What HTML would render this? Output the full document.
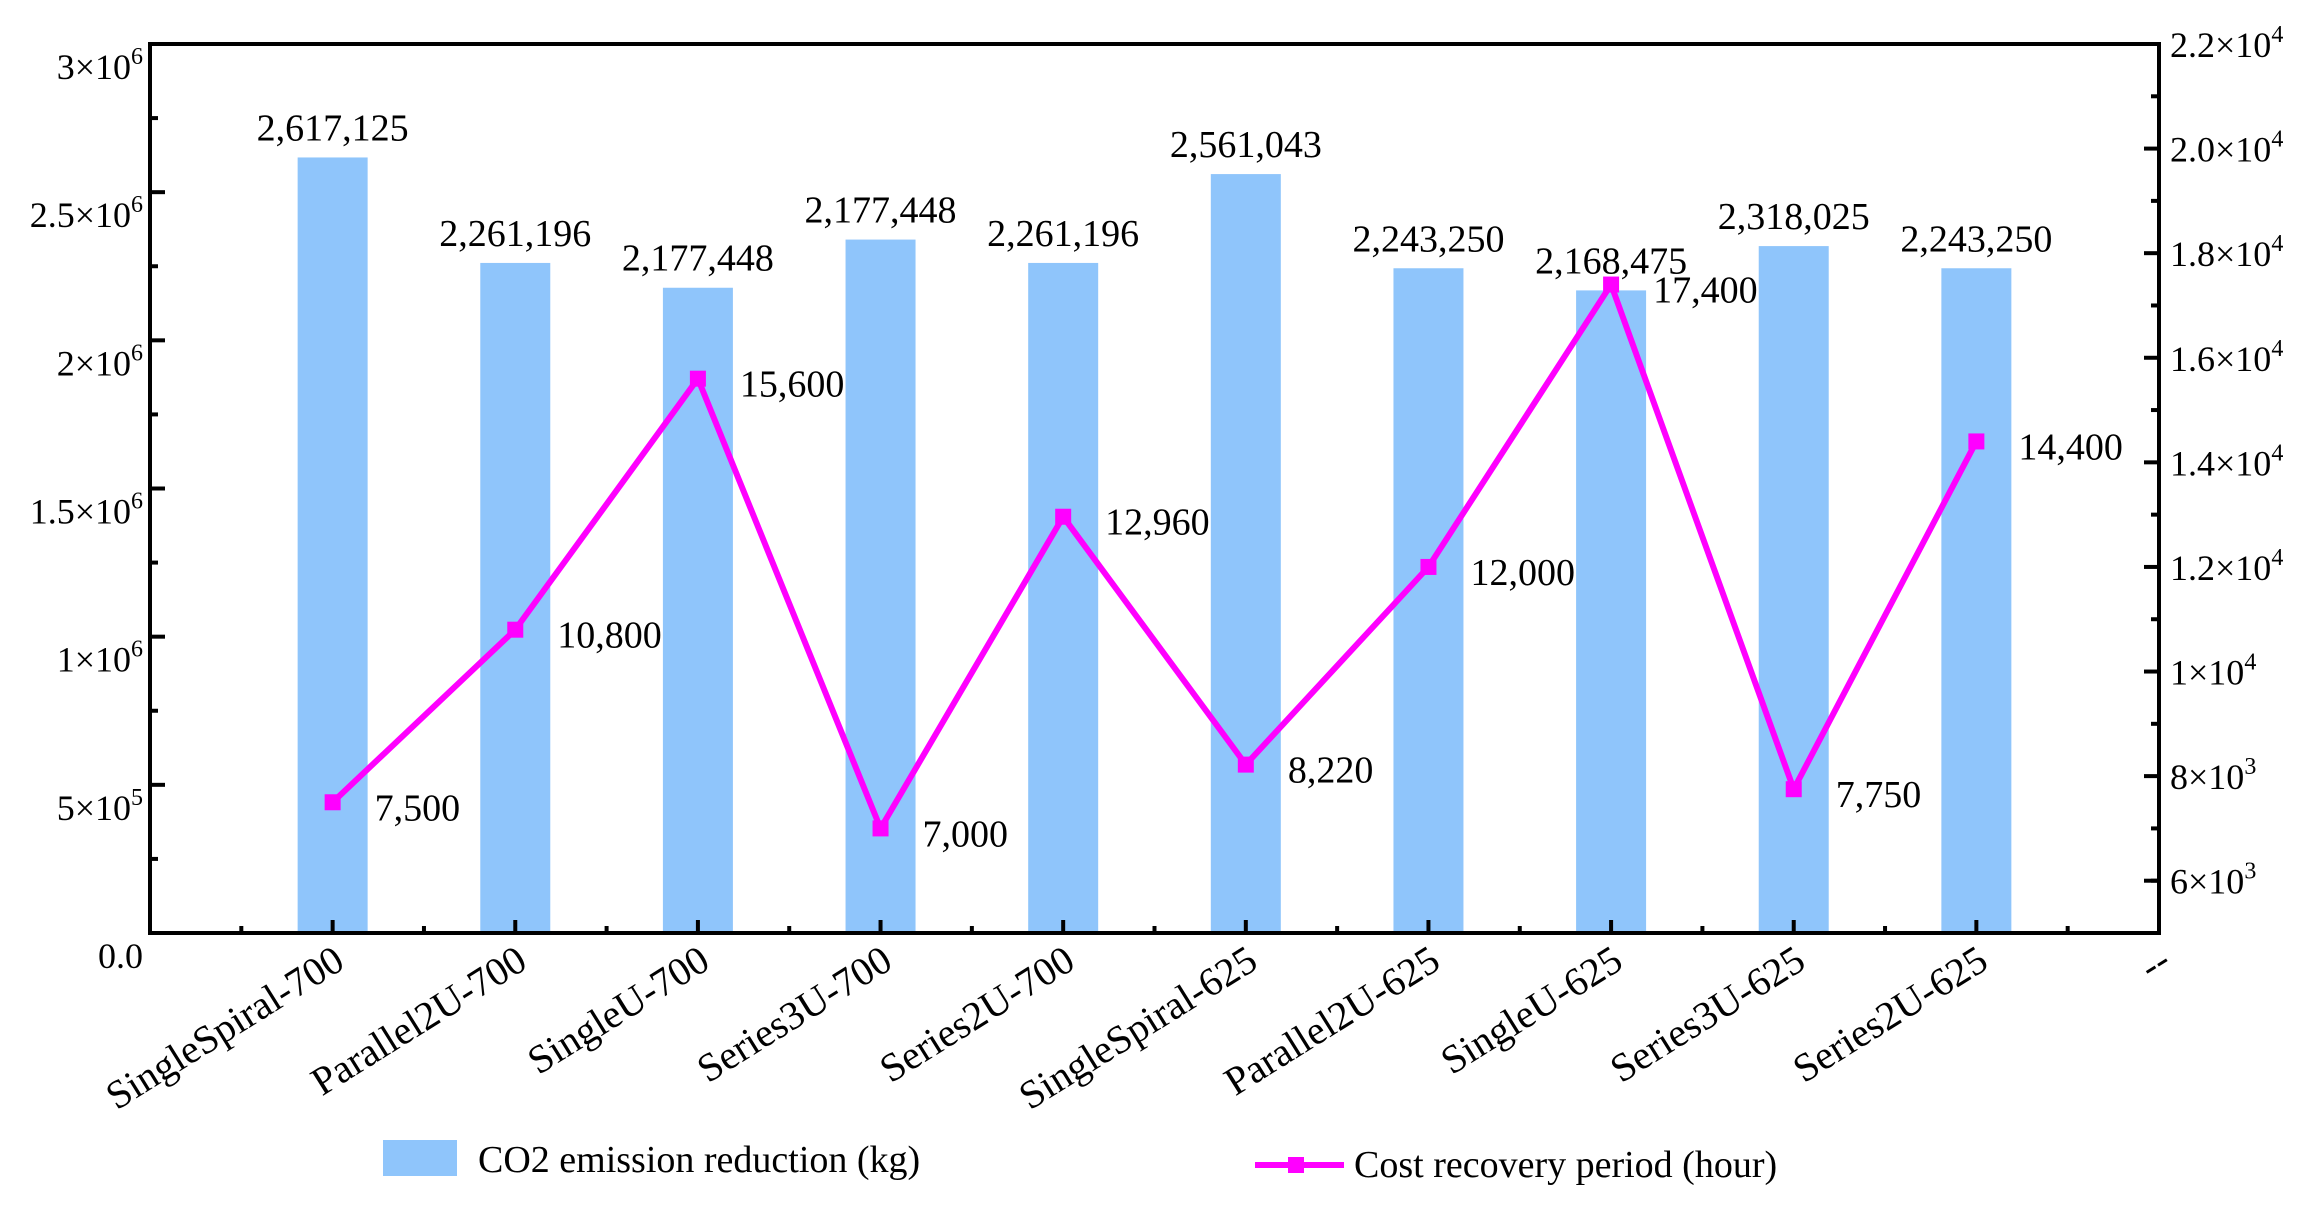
<!DOCTYPE html>
<html><head><meta charset="utf-8"><style>
html,body{margin:0;padding:0;background:#fff;}
svg, svg text{font-family:"Liberation Serif","Times New Roman",serif;}
</style></head><body>
<svg id="chart" width="2317" height="1201" viewBox="0 0 2317 1201" xmlns="http://www.w3.org/2000/svg" font-family="Liberation Serif, serif"></svg>
<script>
const categories = ["SingleSpiral-700","Parallel2U-700","SingleU-700","Series3U-700","Series2U-700","SingleSpiral-625","Parallel2U-625","SingleU-625","Series3U-625","Series2U-625"];
const co2Values = [2617125,2261196,2177448,2340000,2261196,2561043,2243250,2168475,2318025,2243250];
const co2Labels = ["2,617,125","2,261,196","2,177,448","2,177,448","2,261,196","2,561,043","2,243,250","2,168,475","2,318,025","2,243,250"];
const costValues = [7500,10800,15600,7000,12960,8220,12000,17400,7750,14400];
const costLabels = ["7,500","10,800","15,600","7,000","12,960","8,220","12,000","17,400","7,750","14,400"];
const leftTicks = [0,500000,1000000,1500000,2000000,2500000,3000000];
const leftTickMant = ["0.0","5","1","1.5","2","2.5","3"];
const leftTickExp = ["","5","6","6","6","6","6"];
const rightTicks = [6000,8000,10000,12000,14000,16000,18000,20000,22000];
const rightTickMant = ["6","8","1","1.2","1.4","1.6","1.8","2.0","2.2"];
const rightTickExp = ["3","3","4","4","4","4","4","4","4"];

const NS="http://www.w3.org/2000/svg";
const FONT='"Liberation Serif","Times New Roman",serif';
const svg=document.getElementById('chart');
const L=150,R=2159,T=44,B=933;
const step=(R-L)/11;
const xPos=i=>L+(i+1)*step;
const yL=v=>B-(v/3000000)*(B-T);
const yR=v=>B-((v-5000)/17000)*(B-T);
function el(tag,attrs,parent){const e=document.createElementNS(NS,tag);for(const k in attrs)e.setAttribute(k,attrs[k]);if(tag==='text')e.style.fontFamily=FONT;(parent||svg).appendChild(e);return e;}

// bars
co2Values.forEach((v,i)=>{
  const r=el('rect',{x:xPos(i)-35,y:yL(v),width:70,height:B-yL(v),fill:'#8fc5fb'});
  
  
  const t=el('text',{x:xPos(i),y:yL(v)-17,'text-anchor':'middle','font-size':38});
  t.textContent=co2Labels[i];
  
  
});

const frame=el('rect',{x:L,y:T,width:R-L,height:B-T,fill:'none',stroke:'#000','stroke-width':4});



leftTicks.forEach((v,i)=>{
  const y=yL(v);
  el('line',{x1:L,x2:L+15,y1:y,y2:y,stroke:'#000','stroke-width':4});
  if(i<leftTicks.length-1){const ym=yL(v+250000);el('line',{x1:L,x2:L+8,y1:ym,y2:ym,stroke:'#000','stroke-width':4});}
  const t=el('text',{x:143,y:y+35,'text-anchor':'end','font-size':36});
  
  
  if(leftTickExp[i]===""){t.textContent=leftTickMant[i];}
  else{
    const a=el('tspan',{},t);a.textContent=leftTickMant[i]+"×10";
    const b=el('tspan',{dy:-15,'font-size':24},t);b.textContent=leftTickExp[i];
  }
});
const rAll=[5000].concat(rightTicks);
rAll.forEach(v=>{if(v<22000){const ym=yR(v+1000);el('line',{x1:R,x2:R-8,y1:ym,y2:ym,stroke:'#000','stroke-width':4});}});
rightTicks.forEach((v,i)=>{
  const y=yR(v);
  el('line',{x1:R,x2:R-15,y1:y,y2:y,stroke:'#000','stroke-width':4});
  const t=el('text',{x:2170,y:y+13,'font-size':36});
  
  
  const a=el('tspan',{},t);a.textContent=rightTickMant[i]+"×10";
  const b=el('tspan',{dy:-15,'font-size':24},t);b.textContent=rightTickExp[i];
});
const cats=categories.concat(["--"]);
for(let i=0;i<=10;i++){
  const x=xPos(i);
  el('line',{x1:x,x2:x,y1:B,y2:B-13,stroke:'#000','stroke-width':4});
  const xm=x-step/2;
  el('line',{x1:xm,x2:xm,y1:B,y2:B-7,stroke:'#000','stroke-width':4});
  const t=el('text',{x:x+14,y:B+34,'text-anchor':'end','font-size':40,transform:`rotate(-32 ${x+14} ${B+34})`});
  t.textContent=cats[i];
  
  
}

const pts=costValues.map((v,i)=>xPos(i)+','+yR(v)).join(' ');
const pl=el('polyline',{points:pts,fill:'none',stroke:'#ff00ff','stroke-width':6,'stroke-linejoin':'miter'});


costValues.forEach((v,i)=>{
  const m=el('rect',{x:xPos(i)-8,y:yR(v)-8,width:16,height:16,fill:'#ff00ff'});
  
  
  const t=el('text',{x:xPos(i)+42,y:yR(v)+18,'font-size':38});
  t.textContent=costLabels[i];
  
  
});

const lg1=el('rect',{x:383,y:1140,width:74,height:36,fill:'#8fc5fb'});


const lt1=el('text',{x:478,y:1172,'font-size':38});lt1.textContent="CO2 emission reduction (kg)";


const lg2=el('line',{x1:1255,x2:1344,y1:1165,y2:1165,stroke:'#ff00ff','stroke-width':6});


el('rect',{x:1288,y:1157,width:16,height:16,fill:'#ff00ff'});
const lt2=el('text',{x:1354,y:1177,'font-size':38});lt2.textContent="Cost recovery period (hour)";


</script>
</body></html>
